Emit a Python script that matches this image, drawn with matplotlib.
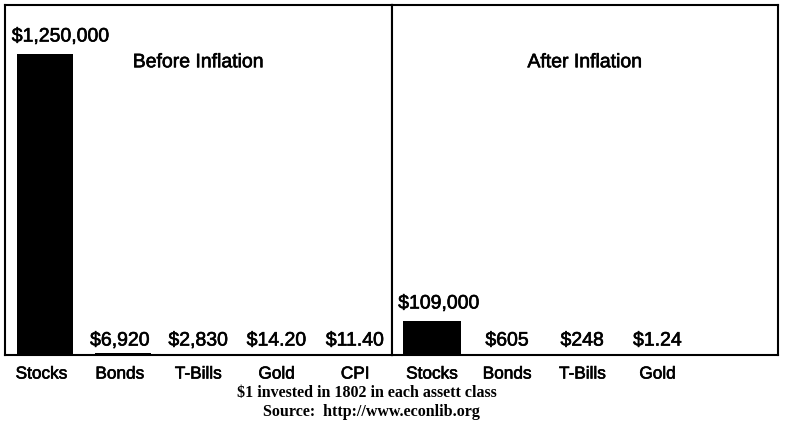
import matplotlib
matplotlib.use("Agg")
import matplotlib.pyplot as plt
import matplotlib.patheffects as pe

# ---- data ----
before_categories = ["Stocks", "Bonds", "T-Bills", "Gold", "CPI"]
before_values = [1250000, 6920, 2830, 14.20, 11.40]
before_labels = ["$1,250,000", "$6,920", "$2,830", "$14.20", "$11.40"]

after_categories = ["Stocks", "Bonds", "T-Bills", "Gold"]
after_values = [109000, 605, 248, 1.24]
after_labels = ["$109,000", "$605", "$248", "$1.24"]

panel_titles = ["Before Inflation", "After Inflation"]
footer_lines = ["$1 invested in 1802 in each assett class",
                "Source:  http://www.econlib.org"]

W, H = 787, 426
fig = plt.figure(figsize=(W / 100, H / 100), dpi=100)
fig.patch.set_facecolor("white")

SANS = ["Liberation Sans", "DejaVu Sans"]
SERIF = ["Liberation Serif", "DejaVu Serif"]
THICK = [pe.withStroke(linewidth=0.45, foreground="black")]


def px_axes(x0, y0, x1, y1):
    return fig.add_axes([x0 / W, (H - y1) / H, (x1 - x0) / W, (y1 - y0) / H])


ax1 = px_axes(5, 5, 392, 355)
ax2 = px_axes(392, 5, 778, 355)

panels = [
    (ax1, before_categories, before_values, before_labels, panel_titles[0],
     (-0.4656, 4.471), 1.4535e6, 0.714, 0.04),
    (ax2, after_categories, after_values, after_labels, panel_titles[1],
     (-0.532, 4.601), 1.122e6, 0.77, 0.0),
]

for ax, cats, vals, labs, title, xlim, ytop, bw, shift in panels:
    pos = list(range(len(cats)))
    bars = ax.bar([p + shift for p in pos], vals, width=bw, color="black",
                  linewidth=0, zorder=2)
    ax.set_xlim(*xlim)
    ax.set_ylim(0, ytop)
    ax.set_xticks(pos)
    ax.set_xticklabels(cats, fontsize=12.4, family=SANS)
    for t in ax.get_xticklabels():
        t.set_path_effects(THICK)
    ax.tick_params(axis="x", length=0, pad=8.3)
    ax.set_yticks([])
    for sp in ax.spines.values():
        sp.set_linewidth(1.5)
        sp.set_color("black")
    for i, (b, lab) in enumerate(zip(bars, labs)):
        h = b.get_height()
        if i == 0:
            ax.annotate(lab, (b.get_x(), h), xytext=(-3.5, 9),
                        textcoords="offset points", ha="left", va="baseline",
                        fontsize=14, family=SANS, path_effects=THICK)
        else:
            ax.annotate(lab, (pos[i], 0), xytext=(0, 6.8),
                        textcoords="offset points", ha="center", va="baseline",
                        fontsize=14, family=SANS, path_effects=THICK)
    ax.text(0.5, 0.835, title, transform=ax.transAxes, ha="center", va="center",
            fontsize=14, family=SANS, path_effects=THICK)

fig.text(366.7 / W, (H - 393) / H, footer_lines[0], ha="center", va="center",
         fontsize=11.5, family=SERIF, fontweight="bold")
fig.text(371.5 / W, (H - 411.7) / H, footer_lines[1], ha="center", va="center",
         fontsize=11.5, family=SERIF, fontweight="bold")

fig.savefig("out.png", dpi=100, facecolor="white")
